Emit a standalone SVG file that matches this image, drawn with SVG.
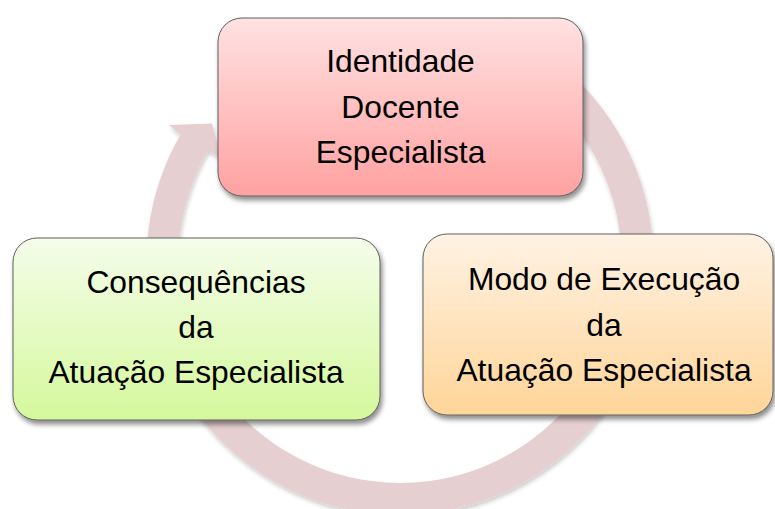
<svg xmlns="http://www.w3.org/2000/svg" width="775" height="509" viewBox="0 0 775 509">
  <defs>
    <linearGradient id="gRed" x1="0" y1="0" x2="0" y2="1">
      <stop offset="0" stop-color="#ffe2e2"/>
      <stop offset="1" stop-color="#ffa1a1"/>
    </linearGradient>
    <linearGradient id="gGreen" x1="0" y1="0" x2="0" y2="1">
      <stop offset="0" stop-color="#f4fdea"/>
      <stop offset="1" stop-color="#d5f89c"/>
    </linearGradient>
    <linearGradient id="gOrange" x1="0" y1="0" x2="0" y2="1">
      <stop offset="0" stop-color="#fff2e4"/>
      <stop offset="1" stop-color="#ffd598"/>
    </linearGradient>
    <filter id="shadow" x="-10%" y="-10%" width="125%" height="130%">
      <feGaussianBlur in="SourceAlpha" stdDeviation="2.5"/>
      <feOffset dx="2" dy="4" result="b"/>
      <feComponentTransfer><feFuncA type="linear" slope="0.45"/></feComponentTransfer>
      <feMerge><feMergeNode/><feMergeNode in="SourceGraphic"/></feMerge>
    </filter>
    <filter id="ringShadow" x="-10%" y="-10%" width="125%" height="125%">
      <feGaussianBlur in="SourceAlpha" stdDeviation="2"/>
      <feOffset dx="1" dy="3" result="b"/>
      <feComponentTransfer><feFuncA type="linear" slope="0.2"/></feComponentTransfer>
      <feMerge><feMergeNode/><feMergeNode in="SourceGraphic"/></feMerge>
    </filter>
  </defs>
  <style>
    .box { stroke: #5e5e5e; stroke-width: 1; filter: url(#shadow); }
    .lbl { font-family: "Liberation Sans", Arial, sans-serif; font-size: 31.8px; fill: #000; text-anchor: middle; }
    .ring { fill: #e6cfd1; filter: url(#ringShadow); }
  </style>
  <rect width="775" height="509" fill="#ffffff"/>

  <g id="connectors">
    <path class="ring" d="M 526.75 41.86 A 253.5 253.5 0 1 1 180.46 134.65 L 169 125 L 212 123.5 L 221.6 158.4 L 208.1 150.6 A 221.6 221.6 0 1 0 510.8 69.5 Z"/>
  </g>

  <g id="node-identidade">
    <rect class="box" x="218" y="18" width="365" height="178" rx="24" ry="24" fill="url(#gRed)"/>
    <text class="lbl" x="400.5" y="72">Identidade</text>
    <text class="lbl" x="400.5" y="118">Docente</text>
    <text class="lbl" x="400.5" y="163">Especialista</text>
  </g>

  <g id="node-consequencias">
    <rect class="box" x="13" y="238" width="367" height="182" rx="24" ry="24" fill="url(#gGreen)"/>
    <text class="lbl" x="196" y="293">Consequências</text>
    <text class="lbl" x="196" y="338">da</text>
    <text class="lbl" x="196" y="383">Atuação Especialista</text>
  </g>

  <g id="node-modo">
    <rect class="box" x="423" y="234" width="350" height="181" rx="24" ry="24" fill="url(#gOrange)"/>
    <text class="lbl" x="604" y="290">Modo de Execução</text>
    <text class="lbl" x="604" y="336">da</text>
    <text class="lbl" x="604" y="381">Atuação Especialista</text>
  </g>
</svg>
